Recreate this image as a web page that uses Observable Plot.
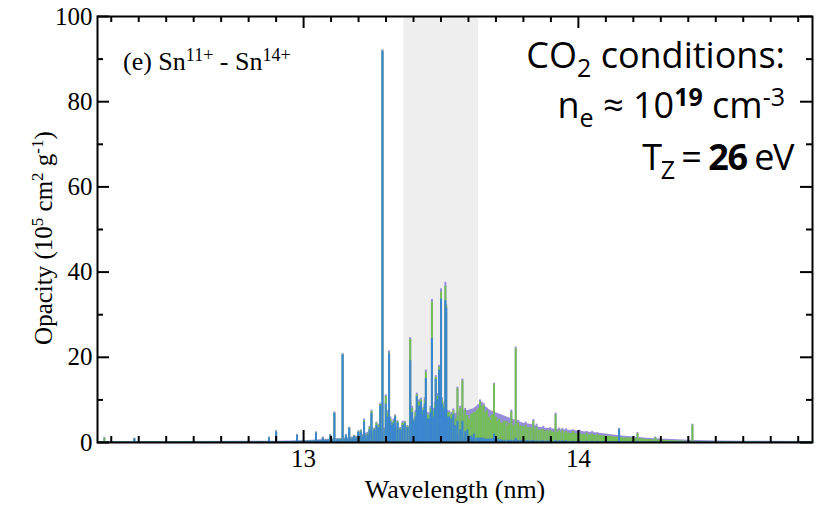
<!DOCTYPE html>
<html>
<head>
<meta charset="utf-8">
<script src="https://cdn.jsdelivr.net/npm/d3@7"></script>
<script src="https://cdn.jsdelivr.net/npm/@observablehq/plot@0.6"></script>
<style>
  html, body { margin: 0; padding: 0; background: #fff; }
  #chart { width: 823px; height: 505px; }
</style>
</head>
<body>
<div id="chart"></div>
<script>
// ---- data ----
const xDomain = [12.25, 14.852];
const yDomain = [0, 100];
const xTickLabels = [13, 14];
const yTickLabels = [0, 20, 40, 60, 80, 100];
const band = [13.365, 13.637];

// continuum envelopes
const contW      = [12.25, 12.9, 13.0, 13.05, 13.1, 13.15, 13.2, 13.22, 13.24, 13.26, 13.28, 13.30, 13.32, 13.34, 13.36, 13.38, 13.40, 13.42, 13.44, 13.46, 13.48, 13.50, 13.52, 13.54, 13.56, 13.58, 13.60, 13.62, 13.64, 13.66, 13.68, 13.70, 13.72, 13.74, 13.76, 13.78, 13.80, 13.83, 13.86, 13.90, 13.94, 13.98, 14.02, 14.06, 14.10, 14.15, 14.20, 14.25, 14.30, 14.40, 14.50, 14.60, 14.852];
const contPurple = [0.2, 0.3, 0.4, 0.6, 0.8, 1.0, 1.5, 2.0, 2.5, 2.5, 3.0, 3.5, 3.0, 3.5, 3.0, 3.5, 4.0, 5.0, 5.0, 5.5, 6.0, 6.0, 6.5, 6.5, 7.0, 7.5, 7.5, 8.0, 9.0, 8.5, 7.5, 7.0, 6.5, 6.0, 5.5, 5.0, 4.5, 4.2, 3.5, 3.2, 3.0, 2.8, 2.5, 2.3, 2.0, 1.6, 1.3, 1.0, 0.8, 0.5, 0.35, 0.3, 0.25];
const contGreen  = [0.1, 0.2, 0.3, 0.4, 0.6, 0.8, 1.2, 1.6, 2.0, 2.0, 2.5, 3.0, 2.5, 3.0, 2.5, 3.0, 3.3, 4.2, 4.2, 4.6, 5.0, 5.0, 5.5, 5.5, 6.0, 6.3, 6.3, 6.8, 7.5, 7.0, 6.2, 5.8, 5.3, 4.8, 4.4, 4.0, 3.6, 3.4, 2.8, 2.5, 2.3, 2.1, 1.9, 1.7, 1.5, 1.2, 1.0, 0.7, 0.5, 0.3, 0.2, 0.15, 0.1];
const contBlue   = [0.1, 0.2, 0.3, 0.4, 0.5, 0.7, 1.0, 1.4, 1.8, 1.8, 2.2, 3.0, 2.6, 3.0, 2.6, 3.0, 3.5, 3.5, 3.5, 3.5, 3.2, 3.0, 2.8, 2.2, 1.6, 1.2, 1.0, 0.8, 0.7, 0.6, 0.5, 0.5, 0.4, 0.4, 0.3, 0.3, 0.3, 0.3, 0.3, 0.2, 0.2, 0.2, 0.2, 0.2, 0.2, 0.2, 0.1, 0.1, 0.1, 0.1, 0.1, 0.1, 0.1];

// line peaks: wavelength and the top of each layer
const peakW      = [12.275, 12.384, 12.874, 12.900, 12.976, 13.045, 13.070, 13.097, 13.112, 13.142, 13.154, 13.166, 13.184, 13.199, 13.220, 13.233, 13.247, 13.257, 13.279, 13.287, 13.299, 13.311, 13.322, 13.333, 13.342, 13.351, 13.368, 13.378, 13.388, 13.402, 13.412, 13.420, 13.427, 13.436, 13.445, 13.452, 13.457, 13.467, 13.474, 13.481, 13.487, 13.493, 13.500, 13.508, 13.516, 13.519, 13.530, 13.545, 13.552, 13.560, 13.570, 13.578, 13.588, 13.596, 13.610, 13.620, 13.630, 13.642, 13.655, 13.667, 13.681, 13.693, 13.705, 13.724, 13.742, 13.756, 13.772, 13.790, 13.815, 13.836, 13.863, 13.887, 13.917, 13.942, 13.980, 14.030, 14.069, 14.148, 14.215, 14.280, 14.415,
                    13.208, 13.240, 13.265, 13.272, 13.305, 13.316, 13.327, 13.360, 13.395, 13.407, 13.416, 13.431, 13.441, 13.462, 13.478, 13.497, 13.504, 13.512, 13.524, 13.537,
                    13.602, 13.614, 13.636, 13.648, 13.661, 13.674, 13.686, 13.699, 13.712, 13.718, 13.731, 13.748, 13.765, 13.781, 13.798, 13.808, 13.825, 13.848, 13.872, 13.897, 13.930, 13.955, 14.005, 14.050];
const peakBlue   = [0.2, 0.8, 1.0, 2.4, 1.6, 2.2, 1.0, 1.6, 6.8, 20.5, 1.6, 3.3, 1.4, 2.4, 4.8, 1.8, 6.8, 3.0, 8.6, 91.8, 9.0, 20.8, 4.0, 6.0, 4.6, 3.0, 4.5, 3.5, 19.2, 5.0, 10.8, 8.5, 9.5, 7.5, 15.0, 5.5, 5.5, 24.4, 6.0, 14.8, 10.0, 17.0, 33.7, 7.0, 33.3, 31.5, 6.0, 6.5, 4.0, 5.0, 3.0, 5.0, 2.5, 3.0, 1.5, 2.0, 1.0, 1.0, 1.0, 0.8, 0.8, 2.0, 0.8, 0.5, 0.5, 0.5, 1.0, 0.5, 0.5, 0.5, 0.4, 0.4, 0.5, 0.4, 0.3, 0.3, 0.3, 3.0, 0.3, 0.2, 0.2,
                    2.5, 3.0, 4.0, 3.5, 6.0, 5.0, 4.5, 4.0, 7.0, 6.0, 7.5, 6.5, 9.0, 7.0, 8.0, 10.0, 9.0, 8.0, 6.0, 5.5,
                    1.5, 1.0, 1.0, 1.0, 0.8, 0.8, 0.8, 0.8, 0.6, 0.6, 0.5, 0.5, 0.5, 0.5, 0.5, 0.4, 0.4, 0.4, 0.4, 0.4, 0.4, 0.4, 0.3, 0.3];
const peakGreen  = [1.0, 0.9, 1.1, 2.5, 1.7, 2.3, 1.1, 1.7, 6.9, 20.6, 1.7, 3.4, 1.5, 2.5, 5.2, 2.0, 7.3, 3.2, 8.9, 91.9, 10.8, 21.0, 4.4, 6.2, 4.9, 3.3, 4.8, 3.8, 24.2, 5.3, 11.2, 9.5, 10.0, 8.0, 16.5, 6.5, 6.0, 33.0, 7.5, 15.3, 11.0, 17.7, 35.3, 8.0, 36.6, 32.0, 7.0, 7.5, 5.5, 12.6, 8.0, 14.5, 7.5, 6.3, 6.5, 7.1, 7.5, 9.5, 8.7, 7.5, 5.3, 13.5, 5.0, 4.6, 4.0, 7.2, 22.0, 3.9, 3.5, 5.0, 3.0, 2.8, 6.5, 2.8, 2.6, 2.2, 1.9, 3.1, 2.1, 1.1, 4.1,
                    2.8, 3.5, 4.5, 4.0, 7.0, 5.5, 5.0, 4.5, 8.0, 7.0, 8.5, 7.0, 10.0, 8.0, 9.0, 11.0, 10.0, 9.0, 7.0, 6.5,
                    5.5, 6.8, 8.0, 8.5, 7.0, 6.0, 6.5, 6.0, 5.5, 4.5, 5.0, 4.5, 4.0, 4.5, 3.8, 4.0, 3.5, 3.6, 3.0, 2.8, 2.9, 2.6, 2.2, 2.0];
const peakPurple = [1.2, 1.0, 1.3, 2.8, 1.9, 2.5, 1.3, 1.9, 7.2, 20.9, 1.9, 3.6, 1.7, 2.7, 5.5, 2.2, 7.6, 3.4, 9.2, 92.2, 11.2, 21.5, 4.7, 6.5, 5.1, 3.5, 5.0, 4.0, 24.6, 5.5, 11.6, 10.0, 10.4, 8.3, 17.0, 7.0, 6.3, 33.6, 8.0, 15.7, 11.5, 18.1, 36.1, 8.5, 37.6, 32.4, 7.4, 7.9, 6.0, 13.0, 8.5, 14.9, 8.0, 6.8, 7.2, 7.6, 8.2, 10.0, 9.2, 8.0, 5.8, 13.9, 5.5, 5.0, 4.4, 7.6, 22.4, 4.3, 4.0, 5.4, 3.5, 3.2, 6.9, 3.3, 3.0, 2.6, 2.3, 3.3, 2.3, 1.3, 4.3,
                    3.0, 3.8, 4.8, 4.3, 7.5, 6.0, 5.5, 5.0, 8.5, 7.5, 9.0, 7.5, 10.5, 8.5, 9.5, 11.5, 10.5, 9.5, 7.5, 7.0,
                    6.2, 7.5, 8.8, 9.5, 8.3, 7.0, 7.3, 6.8, 6.3, 5.5, 5.8, 5.2, 5.0, 5.2, 4.5, 4.8, 4.2, 4.3, 3.8, 3.5, 3.4, 3.2, 2.9, 2.6];

// ---- style ----
const cPurple = "#978ddb";
const cGreen  = "#74bd58";
const cBlue   = "#3a86cf";
const serif = "'Liberation Serif', 'Times New Roman', serif";
const sans = "'Open Sans', sans-serif";
const W = 823, H = 505;
const mL = 97, mR = 11, mT = 16, mB = 63;
const plotW = W - mL - mR, plotH = H - mT - mB;
const majorLen = 12, minorLen = 6;

const xMinor = d3.range(123, 149).map(d => d / 10).filter(d => Math.abs(d - Math.round(d)) > 1e-6);
const yMinor = [10, 30, 50, 70, 90];

const plot = Plot.plot({
  width: W, height: H,
  marginLeft: mL, marginRight: mR, marginTop: mT, marginBottom: mB,
  x: {domain: xDomain},
  y: {domain: yDomain},
  style: {fontSize: "25px", color: "black", background: "white", overflow: "visible"},
  marks: [
    Plot.rect([band], {x1: d => d[0], x2: d => d[1], y1: yDomain[0], y2: yDomain[1], fill: "#eeeeee"}),
    Plot.areaY(contW, {x: contW, y: contPurple, fill: cPurple}),
    Plot.areaY(contW, {x: contW, y: contGreen, fill: cGreen}),
    Plot.areaY(contW, {x: contW, y: contBlue, fill: cBlue}),
    Plot.ruleX(peakW, {x: peakW, y1: 0, y2: peakPurple, stroke: cPurple, strokeWidth: 2}),
    Plot.ruleX(peakW, {x: peakW, y1: 0, y2: peakGreen, stroke: cGreen, strokeWidth: 2}),
    Plot.ruleX(peakW, {x: peakW, y1: 0, y2: peakBlue, stroke: cBlue, strokeWidth: 2}),
    // inward ticks on all four sides
    Plot.ruleX(xTickLabels, {x: d => d, insetTop: plotH - majorLen, stroke: "black", strokeWidth: 2}),
    Plot.ruleX(xTickLabels, {x: d => d, insetBottom: plotH - majorLen, stroke: "black", strokeWidth: 2}),
    Plot.ruleX(xMinor, {x: d => d, insetTop: plotH - minorLen, stroke: "black", strokeWidth: 2}),
    Plot.ruleX(xMinor, {x: d => d, insetBottom: plotH - minorLen, stroke: "black", strokeWidth: 2}),
    Plot.ruleY(yTickLabels, {y: d => d, insetRight: plotW - majorLen, stroke: "black", strokeWidth: 2}),
    Plot.ruleY(yTickLabels, {y: d => d, insetLeft: plotW - majorLen, stroke: "black", strokeWidth: 2}),
    Plot.ruleY(yMinor, {y: d => d, insetRight: plotW - minorLen, stroke: "black", strokeWidth: 2}),
    Plot.ruleY(yMinor, {y: d => d, insetLeft: plotW - minorLen, stroke: "black", strokeWidth: 2}),
    Plot.frame({stroke: "black", strokeWidth: 2}),
    Plot.axisX({ticks: xTickLabels, tickFormat: d => String(d), tickSize: 0, tickPadding: 7, label: null, fontSize: 25}),
    Plot.axisY({ticks: yTickLabels, tickFormat: d => String(d), tickSize: 0, tickPadding: 5, label: null, fontSize: 25})
  ]
});
document.getElementById("chart").appendChild(plot);

const svg = d3.select(plot);
// force the serif face on the tick labels
svg.selectAll("text").style("font-family", serif).style("font-size", "25px");

// ---- rich text (titles & annotations) ----
function rich(x, y, anchor, family, size, parts, transform) {
  const t = svg.append("text")
    .attr("x", x).attr("y", y)
    .attr("text-anchor", anchor)
    .style("font-family", family)
    .style("font-size", size + "px")
    .attr("fill", "black")
    .style("white-space", "pre");
  if (transform) t.attr("transform", transform);
  let cur = 0;
  for (const p of parts) {
    const shift = p.shift || 0;
    const ts = t.append("tspan").attr("dy", shift - cur).text(p.t);
    cur = shift;
    if (p.size) ts.style("font-size", p.size + "px");
    if (p.bold) ts.style("font-weight", "bold");
  }
  return t;
}

// x-axis title
rich(455, 498, "middle", serif, 26, [{t: "Wavelength (nm)"}]);
// y-axis title
rich(0, 0, "middle", serif, 25, [
  {t: "Opacity (10"}, {t: "5", size: 17, shift: -9}, {t: " cm"}, {t: "2", size: 17, shift: -9},
  {t: " g"}, {t: "-1", size: 17, shift: -9}, {t: ")"}
], "translate(52,238) rotate(-90)");
// panel label
rich(123, 70, "start", serif, 26, [
  {t: "(e) Sn"}, {t: "11+", size: 18, shift: -9}, {t: " - Sn"}, {t: "14+", size: 18, shift: -9}
]);
// conditions annotation
rich(785, 68, "end", sans, 36, [{t: "CO"}, {t: "2", size: 25, shift: 9}, {t: " conditions:"}]);
rich(785, 118, "end", sans, 36, [
  {t: "n"}, {t: "e", size: 25, shift: 9}, {t: " ≈ 10"}, {t: "19", size: 25, shift: -12, bold: true},
  {t: " cm"}, {t: "-3", size: 25, shift: -12}
]);
rich(793, 170, "end", sans, 36, [
  {t: "T"}, {t: "Z", size: 25, shift: 9}, {t: " = "}, {t: "26", bold: true}, {t: " eV"}
]).style("letter-spacing", "-1.5px");
</script>
</body>
</html>
